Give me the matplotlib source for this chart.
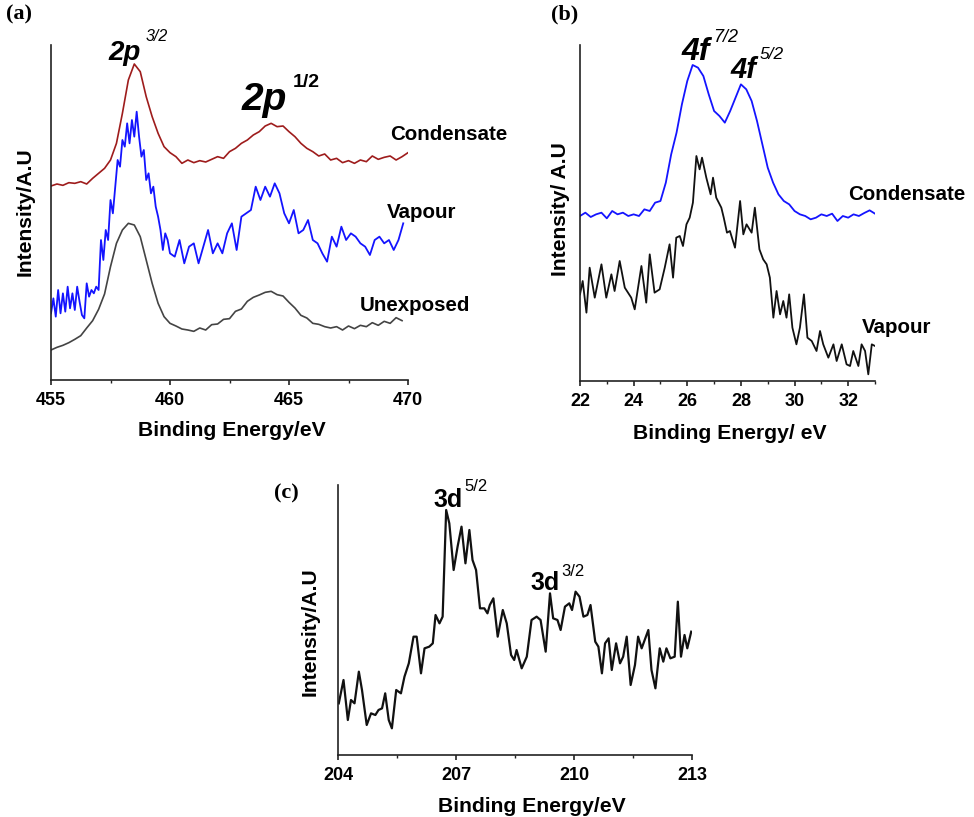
import matplotlib
matplotlib.use("Agg")
import matplotlib.pyplot as plt

plt.rcParams['font.family'] = ['Liberation Sans', 'DejaVu Sans']

# ---------------- Panel (a): 2p region ----------------
a_cond_E = [455.0, 455.25, 455.5, 455.75, 456.0, 456.25, 456.5, 456.75, 457.0, 457.25,
            457.5, 457.75, 458.0, 458.25, 458.5, 458.75, 459.0, 459.25, 459.5, 459.75,
            460.0, 460.25, 460.5, 460.75, 461.0, 461.25, 461.5, 461.75, 462.0, 462.25,
            462.5, 462.75, 463.0, 463.25, 463.5, 463.75, 464.0, 464.25, 464.5, 464.75,
            465.0, 465.25, 465.5, 465.75, 466.0, 466.25, 466.5, 466.75, 467.0, 467.25,
            467.5, 467.75, 468.0, 468.25, 468.5, 468.75, 469.0, 469.25, 469.5, 469.75, 470.0]
a_cond_I = [582, 588, 584, 592, 590, 595, 588, 605, 620, 635,
            660, 710, 800, 900, 948, 925, 850, 790, 740, 700,
            682, 670, 650, 660, 652, 658, 654, 662, 670, 665,
            685, 695, 710, 720, 735, 745, 762, 770, 760, 762,
            745, 730, 710, 695, 685, 672, 678, 660, 665, 652,
            658, 650, 660, 655, 672, 662, 668, 672, 660, 670, 682]

a_vap_E = [455.0, 455.1, 455.2, 455.3, 455.4, 455.5, 455.6, 455.7, 455.8, 455.9,
           456.0, 456.1, 456.2, 456.3, 456.4, 456.5, 456.6, 456.7, 456.8, 456.9,
           457.0, 457.1, 457.2, 457.3, 457.4, 457.5, 457.6, 457.7, 457.8, 457.9,
           458.0, 458.1, 458.2, 458.3, 458.4, 458.5, 458.6, 458.7, 458.8, 458.9,
           459.0, 459.1, 459.2, 459.3, 459.4, 459.5, 459.6, 459.7, 459.8, 459.9,
           460.0, 460.2, 460.4, 460.6, 460.8, 461.0, 461.2, 461.4, 461.6, 461.8,
           462.0, 462.2, 462.4, 462.6, 462.8, 463.0, 463.2, 463.4, 463.6, 463.8,
           464.0, 464.2, 464.4, 464.6, 464.8, 465.0, 465.2, 465.4, 465.6, 465.8,
           466.0, 466.2, 466.4, 466.6, 466.8, 467.0, 467.2, 467.4, 467.6, 467.8,
           468.0, 468.2, 468.4, 468.6, 468.8, 469.0, 469.2, 469.4, 469.6, 469.8]
a_vap_I = [200, 245, 190, 270, 200, 260, 205, 280, 215, 260,
           210, 280, 235, 195, 185, 290, 250, 270, 260, 280,
           270, 420, 360, 450, 420, 540, 500, 580, 660, 640,
           720, 700, 770, 710, 780, 730, 805, 730, 670, 690,
           600, 620, 560, 580, 520, 490, 450, 390, 440, 420,
           380, 370, 420, 350, 400, 410, 350, 400, 450, 380,
           410, 380, 440, 470, 390, 490, 500, 510, 580, 540,
           580, 550, 590, 560, 500, 470, 510, 440, 450, 480,
           420, 410, 380, 355, 430, 400, 460, 420, 440, 430,
           410, 400, 375, 420, 430, 410, 420, 390, 420, 470]

a_unexp_E = [455.0, 455.25, 455.5, 455.75, 456.0, 456.25, 456.5, 456.75, 457.0, 457.25,
             457.5, 457.75, 458.0, 458.25, 458.5, 458.75, 459.0, 459.25, 459.5, 459.75,
             460.0, 460.25, 460.5, 460.75, 461.0, 461.25, 461.5, 461.75, 462.0, 462.25,
             462.5, 462.75, 463.0, 463.25, 463.5, 463.75, 464.0, 464.25, 464.5, 464.75,
             465.0, 465.25, 465.5, 465.75, 466.0, 466.25, 466.5, 466.75, 467.0, 467.25,
             467.5, 467.75, 468.0, 468.25, 468.5, 468.75, 469.0, 469.25, 469.5, 469.75]
a_unexp_I = [90, 98, 104, 112, 122, 133, 156, 178, 212, 258,
             340, 410, 450, 470, 465, 430, 360, 290, 230, 190,
             170, 162, 153, 150, 146, 156, 150, 166, 168, 182,
             184, 206, 213, 236, 248, 255, 263, 266, 256, 252,
             233, 216, 194, 186, 170, 167, 160, 156, 160, 150,
             162, 154, 164, 160, 172, 164, 176, 170, 187, 178]

# ---------------- Panel (b): 4f region ----------------
b_cond_E = [22.0, 22.2, 22.4, 22.6, 22.8, 23.0, 23.2, 23.4, 23.6, 23.8,
            24.0, 24.2, 24.4, 24.6, 24.8, 25.0, 25.2, 25.4, 25.6, 25.8,
            26.0, 26.2, 26.4, 26.6, 26.8, 27.0, 27.2, 27.4, 27.6, 27.8,
            28.0, 28.2, 28.4, 28.6, 28.8, 29.0, 29.2, 29.4, 29.6, 29.8,
            30.0, 30.2, 30.4, 30.6, 30.8, 31.0, 31.2, 31.4, 31.6, 31.8,
            32.0, 32.2, 32.4, 32.6, 32.8, 33.0]
b_cond_I = [495, 505, 492, 500, 505, 488, 510, 500, 505, 495,
            500, 495, 515, 510, 535, 540, 595, 680, 745, 830,
            900, 948, 940, 915, 860, 810, 795, 775, 810, 850,
            890, 875, 840, 780, 710, 640, 595, 560, 540, 530,
            510, 500, 495, 485, 490, 500, 495, 502, 480, 495,
            490, 500, 495, 504, 512, 502]

b_vap_E = [22.00, 22.10, 22.24, 22.36, 22.55, 22.80, 22.98, 23.17, 23.29, 23.48,
           23.67, 23.91, 24.04, 24.29, 24.47, 24.60, 24.78, 24.97, 25.16, 25.34,
           25.47, 25.59, 25.72, 25.84, 25.97, 26.09, 26.21, 26.34, 26.46, 26.55,
           26.71, 26.87, 26.96, 27.08, 27.27, 27.36, 27.48, 27.59, 27.78, 27.97,
           28.09, 28.21, 28.40, 28.52, 28.69, 28.83, 28.96, 29.08, 29.21, 29.33,
           29.46, 29.58, 29.70, 29.80, 29.92, 30.07, 30.20, 30.35, 30.48, 30.64,
           30.82, 30.95, 31.07, 31.26, 31.45, 31.57, 31.76, 31.94, 32.07, 32.19,
           32.38, 32.50, 32.63, 32.75, 32.88, 33.00]
b_vap_I = [260, 300, 205, 340, 250, 350, 250, 320, 270, 360,
           280, 250, 215, 345, 235, 380, 265, 275, 340, 410,
           310, 430, 435, 405, 470, 490, 535, 675, 635, 670,
           610, 560, 610, 550, 520, 490, 445, 450, 400, 540,
           440, 470, 445, 520, 395, 365, 350, 310, 190, 270,
           200, 240, 190, 260, 160, 110, 160, 260, 130, 120,
           90, 150, 110, 70, 110, 60, 110, 50, 45, 90,
           45, 110, 90, 20, 110, 105]

# ---------------- Panel (c): 3d region ----------------
c_E = [204.02, 204.14, 204.25, 204.33, 204.42, 204.53, 204.61, 204.73, 204.84, 204.95,
       205.03, 205.12, 205.20, 205.29, 205.37, 205.48, 205.60, 205.69, 205.80, 205.92,
       206.00, 206.11, 206.20, 206.32, 206.41, 206.48, 206.58, 206.66, 206.75, 206.83,
       206.94, 207.04, 207.14, 207.24, 207.34, 207.42, 207.51, 207.61, 207.72, 207.80,
       207.86, 207.95, 208.06, 208.19, 208.29, 208.40, 208.48, 208.54, 208.67, 208.80,
       208.92, 209.05, 209.15, 209.28, 209.39, 209.47, 209.58, 209.66, 209.77, 209.88,
       209.95, 210.04, 210.14, 210.24, 210.34, 210.42, 210.54, 210.62, 210.71, 210.79,
       210.88, 210.96, 211.07, 211.17, 211.25, 211.34, 211.44, 211.55, 211.63, 211.72,
       211.89, 211.97, 212.07, 212.18, 212.27, 212.35, 212.45, 212.56, 212.64, 212.72,
       212.81, 212.88, 212.98]
c_I = [155, 225, 105, 165, 155, 250, 195, 90, 125, 120,
       135, 140, 185, 105, 80, 195, 185, 235, 275, 355,
       355, 245, 320, 325, 335, 420, 395, 415, 735, 695,
       555, 625, 685, 575, 675, 585, 555, 440, 440, 425,
       450, 470, 355, 435, 395, 300, 285, 315, 260, 295,
       405, 415, 405, 310, 485, 410, 405, 375, 445, 455,
       435, 490, 475, 415, 420, 450, 340, 325, 245, 335,
       350, 255, 335, 275, 295, 355, 210, 270, 355, 320,
       375, 255, 200, 320, 280, 320, 290, 295, 460, 295,
       360, 320, 370]

a_ticks = [455, 460, 465, 470]
a_minor = [457.5, 462.5, 467.5]
b_ticks = [22, 24, 26, 28, 30, 32]
b_minor = [23, 25, 27, 29, 31, 33]
c_ticks = [204, 207, 210, 213]
c_minor = [205.5, 208.5, 211.5]

W, H = 974, 817
fig = plt.figure(figsize=(W / 100, H / 100), dpi=100)


def px_axes(l, r, t, b):
    return fig.add_axes([l / W, 1 - b / H, (r - l) / W, (b - t) / H])


def style(ax, xlim, ylim, ticks, minor):
    ax.set_xlim(*xlim)
    ax.set_ylim(*ylim)
    for s in ['top', 'right']:
        ax.spines[s].set_visible(False)
    for s in ['left', 'bottom']:
        ax.spines[s].set_linewidth(1.2)
        ax.spines[s].set_color('#222222')
    ax.set_yticks([])
    ax.set_xticks(ticks)
    ax.set_xticks(minor, minor=True)
    ax.set_xticklabels([str(t) for t in ticks])
    ax.tick_params(axis='x', which='major', length=3.5, width=1.2, pad=5,
                   labelsize=13, colors='#222222')
    ax.tick_params(axis='x', which='minor', length=2.5, width=1.0, colors='#222222')
    for lab in ax.get_xticklabels():
        lab.set_fontweight('bold')
        lab.set_color('black')


def ftext(x, y, s, **kw):
    fig.text(x / W, 1 - y / H, s, **kw)


# Panel (a)
axa = px_axes(51, 408, 45, 380)
axa.plot(a_cond_E, a_cond_I, color='#9e1c1c', lw=1.2)
axa.plot(a_vap_E, a_vap_I, color='#1414ff', lw=1.3)
axa.plot(a_unexp_E, a_unexp_I, color='#444444', lw=1.2)
style(axa, (455, 470), (0, 1005), a_ticks, a_minor)

# Panel (b)
axb = px_axes(580, 875, 45, 381)
axb.plot(b_cond_E, b_cond_I, color='#1414ff', lw=1.3)
axb.plot(b_vap_E, b_vap_I, color='#111111', lw=1.3)
style(axb, (22, 33), (0, 1008), b_ticks, b_minor)

# Panel (c)
axc = px_axes(338, 692, 485, 755)
axc.plot(c_E, c_I, color='#111111', lw=1.6)
style(axc, (204, 213), (0, 810), c_ticks, c_minor)

# Axis titles
lab_kw = dict(fontsize=15.2, fontweight='bold', ha='center', va='center')
ftext(25, 212, 'Intensity/A.U', rotation=90, **lab_kw)
ftext(232, 431, 'Binding Energy/eV', **lab_kw)
ftext(561, 209, 'Intensity/ A.U', rotation=90, **lab_kw)
ftext(730, 433, 'Binding Energy/ eV', **lab_kw)
ftext(310, 632, 'Intensity/A.U', rotation=90, **lab_kw)
ftext(532, 806, 'Binding Energy/eV', **lab_kw)

# Panel letters
pl_kw = dict(fontsize=16, fontweight='bold', family='Liberation Serif', va='center', ha='left')
ftext(6, 14, '(a)', **pl_kw)
ftext(551, 14, '(b)', **pl_kw)
ftext(274, 493, '(c)', **pl_kw)

# Series labels
sl_kw = dict(fontsize=14.8, fontweight='bold', ha='left', va='center')
ftext(390, 134, 'Condensate', **sl_kw)
ftext(387, 213, 'Vapour', **sl_kw)
ftext(360, 305, 'Unexposed', **sl_kw)
ftext(848, 195, 'Condensate', **sl_kw)
ftext(862, 327, 'Vapour', **sl_kw)

# Peak labels
bl = dict(ha='left', va='baseline')
ftext(108, 60, '2p', fontsize=20, fontweight='bold', style='italic', **bl)
ftext(146, 41, '3/2', fontsize=11.5, style='italic', **bl)
ftext(242, 110, '2p', fontsize=28, fontweight='bold', style='italic', **bl)
ftext(293, 87, '1/2', fontsize=14, fontweight='bold', **bl)
ftext(682, 60, '4f', fontsize=23, fontweight='bold', style='italic', **bl)
ftext(713, 42, '7/2', fontsize=13, style='italic', **bl)
ftext(730, 78, '4f', fontsize=21, fontweight='bold', style='italic', **bl)
ftext(760, 59, '5/2', fontsize=12.5, style='italic', **bl)
ftext(433, 507, '3d', fontsize=18, fontweight='bold', **bl)
ftext(464, 491, '5/2', fontsize=12, **bl)
ftext(530, 590, '3d', fontsize=18, fontweight='bold', **bl)
ftext(561, 576, '3/2', fontsize=12, **bl)

fig.savefig('out.png', dpi=100)
